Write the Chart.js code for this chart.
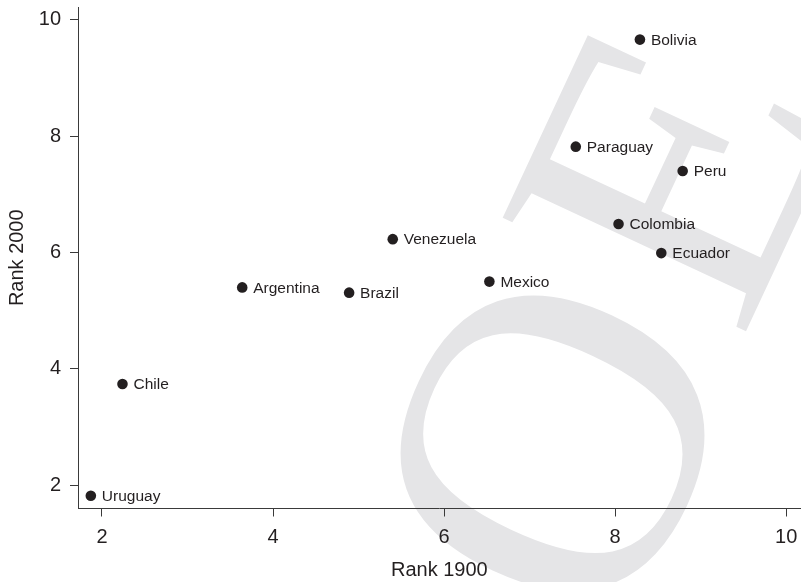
<!DOCTYPE html>
<html>
<head>
<meta charset="utf-8">
<script src="https://cdn.jsdelivr.net/npm/chart.js@4.4.1/dist/chart.umd.min.js"></script>
<style>
  html, body { margin: 0; padding: 0; background: #fff; overflow: hidden; }
  #chart { display: block; }
</style>
</head>
<body>
<canvas id="chart" width="806" height="582"></canvas>
<script>
// values
const countries = ["Uruguay", "Chile", "Argentina", "Brazil", "Venezuela", "Mexico",
                   "Paraguay", "Bolivia", "Peru", "Colombia", "Ecuador"];
const rank1900 = [1.87, 2.24, 3.64, 4.89, 5.40, 6.53, 7.54, 8.29, 8.79, 8.04, 8.54];
const rank2000 = [1.82, 3.74, 5.40, 5.31, 6.23, 5.50, 7.82, 9.66, 7.40, 6.49, 5.99];
const xTicks = [2, 4, 6, 8, 10];
const yTicks = [2, 4, 6, 8, 10];

const ink = "#231f20";
const axisColor = "#3a3a3a";
Chart.defaults.font.family = '"Liberation Sans", Arial, Helvetica, sans-serif';

// grey "OE" watermark behind the plot
const watermark = {
  id: "watermark",
  beforeDraw(chart) {
    const ctx = chart.ctx;
    const serif = '"Liberation Serif", "DejaVu Serif", serif';
    ctx.save();
    ctx.fillStyle = "#e5e5e7";
    ctx.textBaseline = "alphabetic";

    ctx.save();
    ctx.font = "440px " + serif;
    ctx.textAlign = "center";
    ctx.translate(683, 504);
    ctx.rotate(-65 * Math.PI / 180);
    ctx.fillText("O", 0, 0);
    ctx.restore();

    ctx.save();
    ctx.font = "410px " + serif;
    ctx.textAlign = "left";
    ctx.translate(741, 342);
    ctx.rotate(-65 * Math.PI / 180);
    ctx.fillText("E", 0, 0);
    ctx.restore();

    ctx.restore();
  }
};

// country names next to the dots
const pointLabels = {
  id: "pointLabels",
  afterDatasetsDraw(chart) {
    const ctx = chart.ctx;
    const meta = chart.getDatasetMeta(0);
    ctx.save();
    ctx.font = '15.5px "Liberation Sans", Arial, sans-serif';
    ctx.fillStyle = ink;
    ctx.textBaseline = "middle";
    meta.data.forEach((pt, i) => ctx.fillText(countries[i], pt.x + 11, pt.y + 1));
    ctx.restore();
  }
};

new Chart(document.getElementById("chart"), {
  type: "scatter",
  data: {
    datasets: [{
      data: rank1900.map((x, i) => ({ x: x, y: rank2000[i] })),
      backgroundColor: ink,
      borderWidth: 0,
      pointRadius: 5.3,
      pointHoverRadius: 5.3
    }]
  },
  options: {
    responsive: false,
    animation: false,
    events: [],
    layout: { padding: { top: 7, left: 0, right: 0, bottom: 0 } },
    plugins: { legend: { display: false }, tooltip: { enabled: false } },
    scales: {
      x: {
        type: "linear",
        min: 1.72,
        max: 10.17,
        afterBuildTicks: (s) => { s.ticks = xTicks.map(v => ({ value: v })); },
        afterFit: (s) => { s.height = 73.5; s.paddingLeft = 0; s.paddingRight = 0; },
        grid: { drawOnChartArea: false, drawTicks: true, tickLength: 8, color: axisColor, lineWidth: 1 },
        border: { display: true, color: axisColor, width: 1 },
        ticks: { color: ink, font: { size: 20 }, padding: 9, maxRotation: 0, autoSkip: false },
        title: { display: true, text: "Rank 1900", color: ink, font: { size: 20 }, padding: { top: 0, bottom: 0 } }
      },
      y: {
        type: "linear",
        min: 1.60,
        max: 10.22,
        afterBuildTicks: (s) => { s.ticks = yTicks.map(v => ({ value: v })); },
        afterFit: (s) => { s.width = 78; s.paddingTop = 0; s.paddingBottom = 0; },
        grid: { drawOnChartArea: false, drawTicks: true, tickLength: 8, color: axisColor, lineWidth: 1 },
        border: { display: true, color: axisColor, width: 1 },
        ticks: { color: ink, font: { size: 20 }, padding: 9, autoSkip: false },
        title: { display: true, text: "Rank 2000", color: ink, font: { size: 20 }, padding: { top: 5, bottom: 0 } }
      }
    }
  },
  plugins: [watermark, pointLabels]
});
</script>
</body>
</html>
